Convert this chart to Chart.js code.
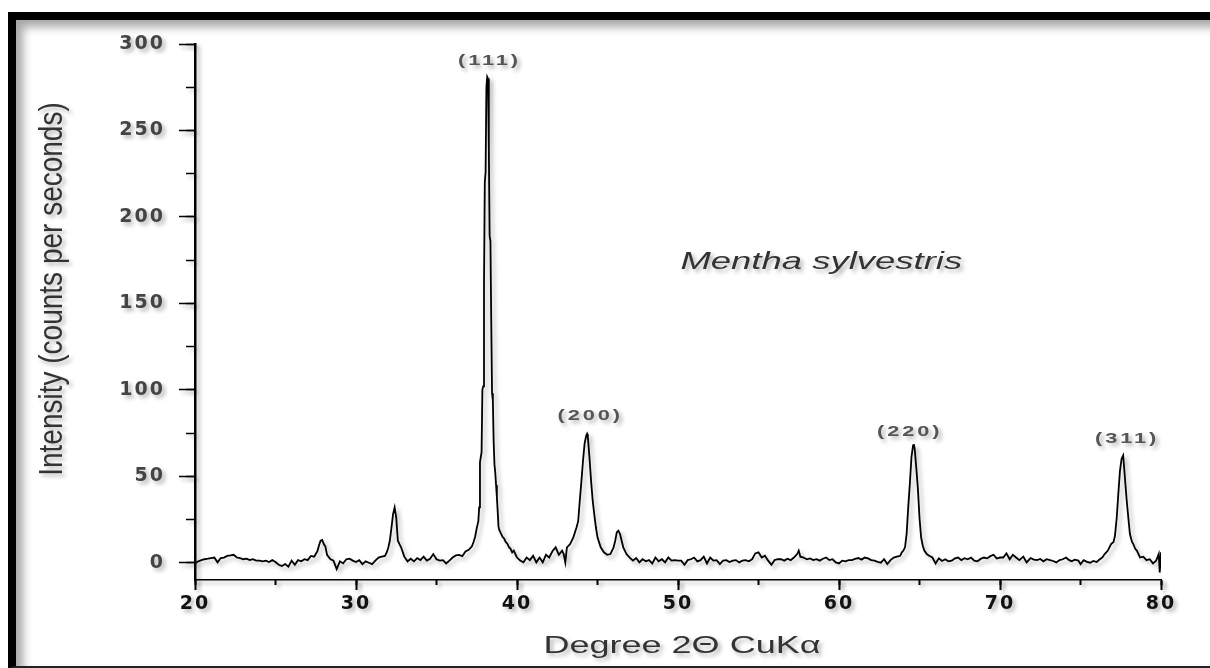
<!DOCTYPE html>
<html>
<head>
<meta charset="utf-8">
<title>XRD pattern - Mentha sylvestris</title>
<script src="https://cdn.jsdelivr.net/npm/chart.js@4.4.1/dist/chart.umd.min.js"></script>
<style>
  html, body { margin: 0; padding: 0; background: #fff; }
  body { width: 1210px; height: 668px; position: relative; overflow: hidden; }
  #frame {
    position: absolute; left: 8px; top: 12px; width: 1230px; height: 646px;
    border-top: 8px solid #000; border-left: 8px solid #000; border-bottom: 2px solid #222;
    box-shadow: inset 7px 7px 10px rgba(0, 0, 0, 0.35);
  }
  #xrdChart { position: absolute; left: 0; top: 0; }
</style>
</head>
<body>
<div id="frame"></div>
<canvas id="xrdChart" width="1210" height="668"></canvas>
<script>
// XRD pattern
const twoTheta = [
  20.0, 20.2, 20.4, 20.6, 20.8, 21.0, 21.2, 21.4, 21.6, 21.8,
  22.0, 22.2, 22.4, 22.6, 22.8, 23.0, 23.2, 23.4, 23.6, 23.8,
  24.0, 24.2, 24.4, 24.6, 24.8, 25.0, 25.2, 25.4, 25.6, 25.8,
  26.0, 26.2, 26.4, 26.6, 26.8, 27.0, 27.2, 27.4, 27.6, 27.7,
  27.8, 27.9, 28.0, 28.1, 28.2, 28.4, 28.6, 28.8, 29.0, 29.2,
  29.4, 29.6, 29.8, 30.0, 30.2, 30.4, 30.6, 30.8, 31.0, 31.2,
  31.4, 31.6, 31.8, 31.9, 32.0, 32.1, 32.2, 32.3, 32.4, 32.5,
  32.6, 32.7, 32.8, 33.0, 33.2, 33.4, 33.6, 33.8, 34.0, 34.2,
  34.4, 34.6, 34.8, 35.0, 35.2, 35.4, 35.6, 35.8, 36.0, 36.2,
  36.4, 36.6, 36.8, 37.0, 37.2, 37.3, 37.4, 37.5, 37.6, 37.65,
  37.7, 37.75, 37.8, 37.85, 37.9, 37.95, 38.0, 38.05, 38.1, 38.15,
  38.2, 38.25, 38.3, 38.35, 38.4, 38.45, 38.5, 38.55, 38.6, 38.65,
  38.7, 38.75, 38.8, 38.85, 38.9, 39.0, 39.1, 39.2, 39.3, 39.4,
  39.5, 39.6, 39.7, 39.8, 39.9, 40.0, 40.2, 40.4, 40.6, 40.8,
  41.0, 41.2, 41.4, 41.6, 41.8, 42.0, 42.2, 42.4, 42.6, 42.8,
  42.9, 43.0, 43.1, 43.3, 43.5, 43.7, 43.8, 43.9, 44.0, 44.1,
  44.2, 44.3, 44.35, 44.4, 44.5, 44.6, 44.7, 44.8, 44.9, 45.0,
  45.2, 45.4, 45.6, 45.8, 46.0, 46.1, 46.2, 46.3, 46.4, 46.5,
  46.6, 46.8, 47.0, 47.2, 47.4, 47.6, 47.8, 48.0, 48.2, 48.4,
  48.6, 48.8, 49.0, 49.2, 49.4, 49.6, 49.8, 50.0, 50.2, 50.4,
  50.6, 50.8, 51.0, 51.2, 51.4, 51.6, 51.8, 52.0, 52.2, 52.4,
  52.6, 52.8, 53.0, 53.2, 53.4, 53.6, 53.8, 54.0, 54.2, 54.4,
  54.6, 54.8, 55.0, 55.2, 55.4, 55.6, 55.8, 56.0, 56.2, 56.4,
  56.6, 56.8, 57.0, 57.2, 57.4, 57.5, 57.6, 57.8, 58.0, 58.2,
  58.4, 58.6, 58.8, 59.0, 59.2, 59.4, 59.6, 59.8, 60.0, 60.2,
  60.4, 60.6, 60.8, 61.0, 61.2, 61.4, 61.6, 61.8, 62.0, 62.2,
  62.4, 62.6, 62.8, 63.0, 63.2, 63.4, 63.6, 63.8, 63.9, 64.0,
  64.1, 64.2, 64.3, 64.4, 64.5, 64.6, 64.65, 64.7, 64.8, 64.9,
  65.0, 65.1, 65.2, 65.3, 65.45, 65.6, 65.8, 66.0, 66.2, 66.4,
  66.6, 66.8, 67.0, 67.2, 67.4, 67.6, 67.8, 68.0, 68.2, 68.4,
  68.6, 68.8, 69.0, 69.2, 69.4, 69.6, 69.8, 70.0, 70.2, 70.4,
  70.6, 70.8, 71.0, 71.2, 71.45, 71.65, 71.9, 72.1, 72.3, 72.5,
  72.7, 72.9, 73.1, 73.3, 73.5, 73.7, 73.9, 74.1, 74.3, 74.45,
  74.65, 74.87, 75.0, 75.2, 75.4, 75.6, 75.8, 76.0, 76.2, 76.35,
  76.5, 76.7, 76.9, 77.05, 77.14, 77.25, 77.35, 77.45, 77.55, 77.65,
  77.76, 77.87, 77.97, 78.07, 78.2, 78.28, 78.4, 78.5, 78.7, 78.9,
  79.1, 79.3, 79.5, 79.7, 79.86, 79.92, 80.0
];

const intensity = [
  -0.4, 0.8, 1.5, 2.0, 2.3, 2.7, 3.0, 0.2, 2.7, 3.0,
  3.9, 4.2, 4.6, 3.0, 2.7, 2.0, 2.3, 1.5, 2.0, 1.2,
  1.2, 0.8, 1.2, 0.4, 1.5, 0.4, -1.2, -1.9, -0.8, -2.3,
  1.2, -1.2, 1.5, 0.8, 2.0, 1.5, 3.9, 3.5, 6.6, 10,
  12.7, 13.1, 10.8, 9.3, 4.6, 2.1, 1.2, -3.7, 0.8, -0.4,
  2.0, 2.3, 1.2, 0.4, 1.5, -0.8, 0.8, 0, -0.8, 1.2,
  3.0, 3.5, 3.9, 5.8, 8.5, 12.7, 20, 28, 32, 26,
  12.7, 10.8, 8.9, 3.5, 0.8, 2.3, 0.8, 2.7, 1.5, 3.5,
  1.2, 2.3, 5.0, 2.0, 1.2, 1.5, -0.4, 1.2, 3.0, 4.2,
  4.5, 3.8, 6.5, 7.5, 9.5, 12, 15, 20, 24, 32,
  58, 61, 64, 100, 102, 160, 220, 226, 275, 281,
  280, 240, 189, 186, 140, 98, 94, 70, 57, 52,
  45, 38, 30, 21, 19, 17, 15, 14, 12, 11,
  9, 8, 6, 7, 5, 3, 1.2, 0.2, 3, 1.5,
  4, 0.2, 3, 0.2, 4.6, 3, 6.6, 8.9, 4.6, 7,
  5, 0.2, 8.9, 10.8, 14.7, 20.5, 24, 36, 47, 59,
  69, 73.5, 74.5, 72.6, 61, 47.5, 36, 28, 20.5, 14.7,
  8.9, 6, 4.6, 5, 8.9, 12.7, 17.6, 18.5, 16.6, 12.7,
  8.9, 5, 3, 1.2, 2.7, 0.2, 2, 0.8, 1.5, -0.4,
  3, 0.8, 2, 0.2, 3, 1.2, 1.5, 1.2, 1.2, -1.2,
  1.5, 2.0, 3, 0.8, 1.5, 3.5, -0.4, 3, 1.2, 1.5,
  -0.8, 1.2, 1.5, 0.4, 1.2, 1.5, 0.2, 1.2, 1.5, 0.8,
  2, 5.4, 6, 3, 4, 1.2, -1.2, 1.5, 2, 2,
  1.2, 2.3, 1.5, 3, 5, 7, 3.5, 3, 2, 2.5,
  1.5, 2, 1.2, 2.3, 3, 1.5, 2, 0.2, -0.4, 1.2,
  0.8, 1.5, 1.5, 2.2, 2.7, 1.8, 3, 2.5, 1.5, 1.2,
  0.5, 0, 2, -0.8, 1.5, 3, 3.5, 4, 6, 7,
  8.9, 16.6, 32, 45.6, 61, 67.8, 68.5, 65.8, 55, 42.7,
  26, 14.7, 10, 7, 5, 4, 3, -0.4, 2.5, 1,
  2, 0.8, 1.2, 2.5, 3, 1.5, 2.6, 2, 3, 1.2,
  0.8, 2.2, 3, 2.5, 3.8, 4.6, 2.4, 3, 3, 5.4,
  2, 4.6, 3, 1.5, 3.5, 0.2, 2.7, 1.8, 1.5, 2.2,
  0.8, 2, 1.5, 1, 0.2, 1.5, 2, 3, 1.5, 0.8,
  1.8, 1.2, -0.8, 1.5, 0.5, 0, 1, 0.4, 2, 3,
  5, 7, 10.8, 12, 15.6, 26, 40, 53, 60, 62,
  49, 36, 26, 16.6, 12, 10.8, 8, 7, 3, 3.5,
  1.5, 2, -0.4, 1.2, 5, -5.6, 6
];

const xMajorTicks = [20, 30, 40, 50, 60, 70, 80];
const xMinorTicks = [20, 25, 30, 35, 40, 45, 50, 55, 60, 65, 70, 75, 80];
const yMajorTicks = [0, 50, 100, 150, 200, 250, 300];
const yMinorTicks = [0, 25, 50, 75, 100, 125, 150, 175, 200, 225, 250, 275, 300];

// Miller indices of the reflections and where their labels sit (2theta, intensity)
const peakLabels = ['(111)', '(200)', '(220)', '(311)'];
const peakLabelX = [38.2, 44.45, 64.3, 77.8];
const peakLabelY = [290, 85, 75.5, 71.5];

const sampleName = 'Mentha sylvestris';
const sampleNameAt = [58.9, 174];

const xTitle = 'Degree 2\u0398 CuK\u03b1';
const yTitle = 'Intensity (counts per seconds)';

// draws text stretched horizontally like the original figure
function wideText(ctx, text, px, py, sx, rot) {
    ctx.save();
    ctx.translate(px, py);
    ctx.scale(sx, 1);
    if (rot) ctx.rotate(rot);
    ctx.fillText(text, 0, 0);
    ctx.restore();
}

const figureText = {
    id: 'figureText',
    beforeDraw(chart) {
        const ctx = chart.ctx;
        ctx.shadowColor = 'rgba(0, 0, 0, 0.3)';
        ctx.shadowBlur = 4;
        ctx.shadowOffsetX = 3;
        ctx.shadowOffsetY = 3;
        ctx.letterSpacing = '2px';
    },
    afterDraw(chart) {
        const ctx = chart.ctx;
        const xs = chart.scales.x;
        const ys = chart.scales.y;
        const area = chart.chartArea;

        ctx.save();
        ctx.textAlign = 'center';
        ctx.textBaseline = 'middle';

        ctx.letterSpacing = '2px';
        ctx.font = 'bold 15px "Liberation Sans"';
        ctx.fillStyle = '#555';
        peakLabels.forEach((label, i) => {
            wideText(ctx, label, xs.getPixelForValue(peakLabelX[i]) + 1.5, ys.getPixelForValue(peakLabelY[i]), 1.45, 0);
        });

        ctx.letterSpacing = '0px';
        ctx.fillStyle = '#333';
        ctx.font = 'italic 24px "Liberation Sans"';
        wideText(ctx, sampleName, xs.getPixelForValue(sampleNameAt[0]), ys.getPixelForValue(sampleNameAt[1]), 1.52, 0);

        ctx.font = '24px "Liberation Sans"';
        wideText(ctx, xTitle, (area.left + area.right) / 2 + 4, area.bottom + 66, 1.5, 0);

        ctx.font = '28px "Liberation Sans"';
        wideText(ctx, yTitle, area.left - 142, area.top + 245, 1.2, -Math.PI / 2);
        ctx.restore();
    }
};

const tickFont = { family: 'DejaVu Sans', size: 19, weight: 'bold' };

function setTicks(values) {
    return (scale) => { scale.ticks = values.map(v => ({ value: v })); };
}

const ctx = document.getElementById('xrdChart').getContext('2d');
const chart = new Chart(ctx, {
    type: 'line',
    data: {
        datasets: [{
            label: 'Mentha sylvestris',
            data: twoTheta.map((t, i) => ({ x: t, y: intensity[i] })),
            borderColor: '#000',
            borderWidth: 1.8,
            pointRadius: 0,
            tension: 0,
            fill: false,
            xAxisID: 'x',
            yAxisID: 'y'
        }]
    },
    options: {
        responsive: false,
        animation: false,
        events: [],
        layout: {
            padding: { left: 0, right: 49, top: 44, bottom: 0 }
        },
        plugins: {
            legend: { display: false },
            tooltip: { enabled: false }
        },
        scales: {
            x: {
                type: 'linear',
                position: 'bottom',
                min: 20,
                max: 80,
                afterBuildTicks: setTicks(xMajorTicks),
                afterFit: (scale) => { scale.height = 88; },
                grid: { drawOnChartArea: false, tickLength: 10, tickWidth: 2, tickColor: '#000' },
                border: { color: '#000', width: 1.5 },
                ticks: { color: '#111', font: tickFont, padding: 3, maxRotation: 0, autoSkip: false }
            },
            xMinor: {
                type: 'linear',
                axis: 'x',
                position: { y: -10 },
                min: 20,
                max: 80,
                afterBuildTicks: setTicks(xMinorTicks),
                grid: { drawOnChartArea: false, tickLength: 5, tickWidth: 2, tickColor: '#000' },
                border: { display: false },
                ticks: { display: false }
            },
            y: {
                type: 'linear',
                position: 'left',
                min: -10,
                max: 300,
                afterBuildTicks: setTicks(yMajorTicks),
                afterFit: (scale) => { scale.width = 195; },
                grid: { drawOnChartArea: false, tickLength: 16, tickWidth: 1.5, tickColor: '#000' },
                border: { color: '#000', width: 2.5 },
                ticks: { color: '#444', font: tickFont, padding: 14, autoSkip: false }
            },
            yMinor: {
                type: 'linear',
                axis: 'y',
                position: { x: 20 },
                min: -10,
                max: 300,
                afterBuildTicks: setTicks(yMinorTicks),
                grid: { drawOnChartArea: false, tickLength: 9, tickWidth: 1.5, tickColor: '#000' },
                border: { display: false },
                ticks: { display: false }
            }
        }
    },
    plugins: [figureText]
});
</script>
</body>
</html>
